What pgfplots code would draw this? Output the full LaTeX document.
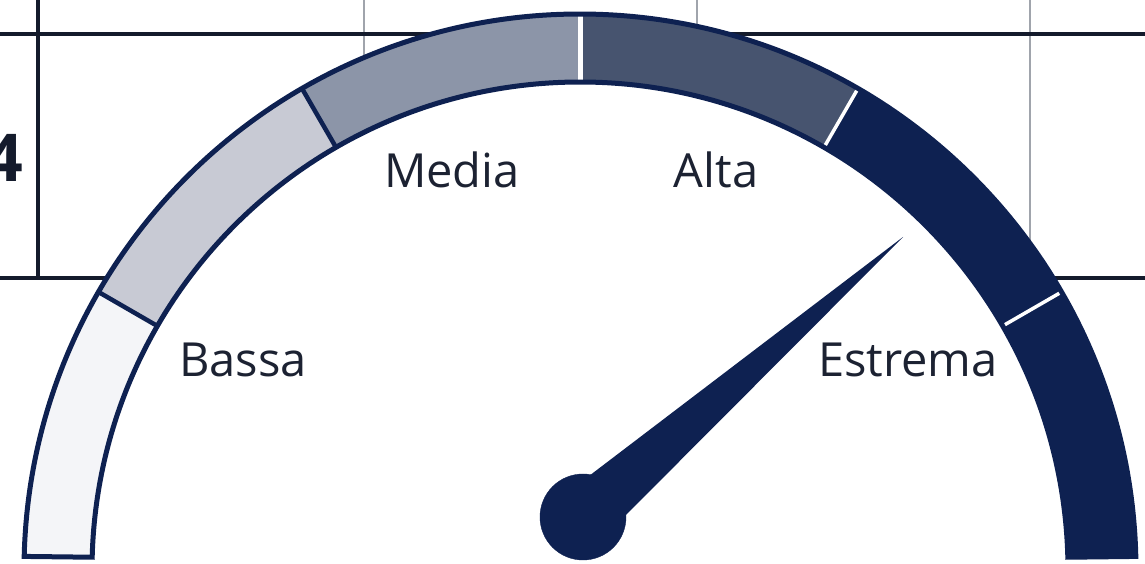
\documentclass[border=0pt]{standalone}
\usepackage{pgfplots}
\pgfplotsset{compat=1.18}
\usepackage{fontspec}
\setmainfont{Open Sans}
\definecolor{navy}{HTML}{0E2151}
\definecolor{segA}{HTML}{F4F5F8}
\definecolor{segB}{HTML}{C8CAD4}
\definecolor{segC}{HTML}{8C95A8}
\definecolor{segD}{HTML}{47546F}
\definecolor{gridgrey}{HTML}{A0A4AC}
\definecolor{gridnavy}{HTML}{141B2C}
\definecolor{txt}{HTML}{1C2232}
% gauge: centre, outer and inner radius (pixels)
\def\Cx{580}\def\Cy{-6}
\def\Ro{556pt}\def\Ri{488pt}
\newcommand{\seg}[3]{% colour, from, to
  \fill[#1] (#2:\Ro) arc[start angle=#2,end angle=#3,radius=\Ro] -- (#3:\Ri) arc[start angle=#3,end angle=#2,radius=\Ri] -- cycle;}
\begin{document}
\begin{tikzpicture}
\begin{axis}[x=1pt,y=1pt,xmin=0,xmax=1145,ymin=0,ymax=564,hide axis,scale only axis,clip=true]
% background grid
\addplot[gridgrey,line width=1.6pt] coordinates {(364,0) (364,564)};
\addplot[gridgrey,line width=1.6pt] coordinates {(697,0) (697,564)};
\addplot[gridgrey,line width=1.6pt] coordinates {(1030,0) (1030,564)};
\addplot[gridnavy,line width=3.5pt] coordinates {(0,530) (1145,530)};
\addplot[gridnavy,line width=3.5pt] coordinates {(0,286) (1145,286)};
\addplot[gridnavy,line width=3.5pt] coordinates {(38,564) (38,286)};
\node[anchor=east,font=\fontsize{66}{70}\selectfont\bfseries,text=gridnavy,inner sep=0pt] at (axis cs:23,406) {4};
\begin{scope}[shift={(axis cs:\Cx,\Cy)}]
\fill[white] (0,0) circle[radius=\Ro];
\seg{segA}{150}{178.6}
\seg{segB}{120}{150}
\seg{segC}{90}{120}
\seg{segD}{60}{90}
\seg{navy}{1.4}{60}
\draw[navy,line width=4.5pt] (150:\Ri) -- (150:\Ro);
\draw[navy,line width=4.5pt] (120:\Ri) -- (120:\Ro);
\draw[white,line width=5pt] (90:\Ri) -- (90:\Ro);
\draw[white,line width=3.5pt] (60:\Ri) -- (60:\Ro);
\draw[white,line width=3.5pt] (30:\Ri) -- (30:\Ro);
\draw[navy,line width=5pt,line join=miter] (178.6:\Ro) arc[start angle=178.6,end angle=1.4,radius=\Ro] -- (1.5:\Ri) arc[start angle=1.5,end angle=178.5,radius=\Ri] -- cycle;
\end{scope}
% labels
\node[font=\fontsize{47}{50}\selectfont,text=txt] at (axis cs:243,204) {Bassa};
\node[font=\fontsize{47}{50}\selectfont,text=txt] at (axis cs:452,394) {Media};
\node[font=\fontsize{47}{50}\selectfont,text=txt] at (axis cs:716,394) {Alta};
\node[font=\fontsize{47}{50}\selectfont,text=txt] at (axis cs:908,204) {Estrema};
% needle
\addplot[fill=navy,draw=none] coordinates {(564,69) (903,327) (602,25)} -- cycle;
\addplot[only marks,mark=*,mark size=43pt,navy,mark options={draw=none}] coordinates {(583,47)};
\end{axis}
\end{tikzpicture}
\end{document}
